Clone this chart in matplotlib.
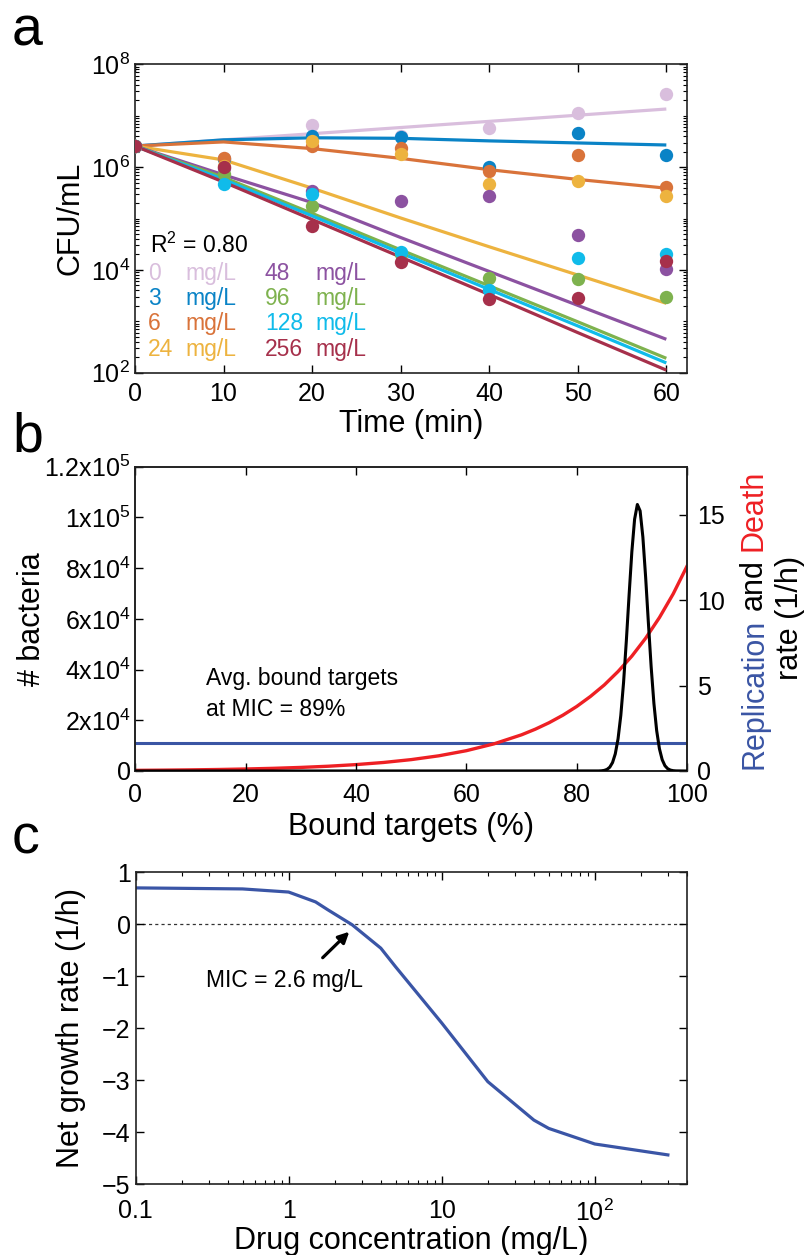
import matplotlib
matplotlib.use('Agg')
import matplotlib.pyplot as plt
from matplotlib import ticker
from matplotlib.transforms import IdentityTransform

plt.rcParams['font.family'] = ['Liberation Sans', 'DejaVu Sans']
plt.rcParams['mathtext.fontset'] = 'custom'
plt.rcParams['mathtext.rm'] = 'Liberation Sans'
plt.rcParams['mathtext.it'] = 'Liberation Sans:italic'
plt.rcParams['mathtext.bf'] = 'Liberation Sans:bold'

# ---------------- Panel a data (log10 CFU/mL) ----------------
time_min = [0, 10, 20, 30, 40, 50, 60]
conc_labels = ['0', '3', '6', '24', '48', '96', '128', '256']
series_colors = ['#D9BEDD', '#0A83C6', '#D9733A', '#EDB33F',
                 '#8C52A1', '#7EB24E', '#10BBEA', '#A6304B']

obs_0 = [6.41, 6.17, 6.81, 6.60, 6.77, 7.06, 7.42]
obs_3 = [6.41, 6.16, 6.61, 6.59, 6.01, 6.67, 6.23]
obs_6 = [6.41, 6.17, 6.42, 6.37, 5.93, 6.24, 5.62]
obs_24 = [6.41, 6.02, 6.51, 6.25, 5.67, 5.73, 5.44]
obs_48 = [6.41, 5.98, 5.53, 5.35, 5.44, 4.67, 4.01]
obs_96 = [6.41, 5.86, 5.24, 4.30, 3.84, 3.82, 3.48]
obs_128 = [6.41, 5.67, 5.47, 4.34, 3.61, 4.23, 4.30]
obs_256 = [6.41, 6.01, 4.85, 4.16, 3.43, 3.46, 4.18]

fit_0 = [6.41, 6.53, 6.65, 6.77, 6.89, 7.01, 7.13]
fit_3 = [6.41, 6.53, 6.57, 6.56, 6.51, 6.47, 6.43]
fit_6 = [6.41, 6.49, 6.36, 6.17, 5.95, 5.76, 5.59]
fit_24 = [6.41, 6.14, 5.59, 5.01, 4.45, 3.90, 3.35]
fit_48 = [6.41, 5.85, 5.31, 4.63, 3.97, 3.31, 2.65]
fit_96 = [6.41, 5.80, 5.10, 4.39, 3.69, 2.99, 2.28]
fit_128 = [6.41, 5.76, 5.05, 4.33, 3.62, 2.91, 2.19]
fit_256 = [6.41, 5.71, 4.98, 4.25, 3.52, 2.78, 2.05]

a_xticks = [0, 10, 20, 30, 40, 50, 60]
a_yticks = [1e2, 1e4, 1e6, 1e8]
a_yticklabels = ['10$^2$', '10$^4$', '10$^6$', '10$^8$']

# ---------------- Panel b data ----------------
bound_pct_rate = [0, 5, 10, 15, 20, 25, 30, 35, 40, 45, 50, 55, 60, 65, 70,
                  72.5, 75, 77.5, 80, 82.5, 85, 87.5, 90, 92.5, 95, 97.5, 100]
death_rate = [0.037, 0.050, 0.066, 0.088, 0.118, 0.157, 0.21, 0.28, 0.375,
              0.50, 0.667, 0.89, 1.19, 1.59, 2.12, 2.45, 2.83, 3.27, 3.78,
              4.37, 5.04, 5.83, 6.73, 7.78, 8.99, 10.38, 12.0]
bound_pct_repl = [0, 100]
replication_rate = [1.66, 1.66]

bound_pct_dist = [0, 84, 84.5, 85, 85.5, 86, 86.5, 87, 87.5, 88, 88.5, 89,
                  89.5, 90, 90.5, 91, 91.5, 92, 92.5, 93, 93.5, 94, 94.5, 95,
                  95.5, 96, 96.5, 97, 97.5, 98, 100]
n_bacteria = [0, 28, 86, 242, 629, 1506, 3327, 6771, 12690, 21930, 34930,
              51260, 69330, 86420, 99290, 105100, 102580, 92250, 76460, 58410,
              41120, 26670, 15950, 8790, 4465, 2085, 901, 358, 131, 44, 0]

b_xticks = [0, 20, 40, 60, 80, 100]
b_yticks = [0, 2e4, 4e4, 6e4, 8e4, 1e5, 1.2e5]
b_yticklabels = ['0', '2x10$^4$', '4x10$^4$', '6x10$^4$', '8x10$^4$',
                 '1x10$^5$', '1.2x10$^5$']
b_rticks = [0, 5, 10, 15]

# ---------------- Panel c data ----------------
drug_conc = [0.1, 0.5, 1, 1.5, 1.8, 2.6, 4, 5, 10, 20, 40, 50, 100, 300]
net_growth = [0.70, 0.68, 0.62, 0.43, 0.28, -0.01, -0.46, -0.82, -1.90,
              -3.03, -3.77, -3.93, -4.23, -4.44]
c_xticks = [0.1, 1, 10, 100]
c_xticklabels = ['0.1', '1', '10', '10$^2$']
c_yticks = [-5, -4, -3, -2, -1, 0, 1]

W, H = 807, 1255
fig = plt.figure(figsize=(W / 100, H / 100), dpi=100)

TICK_FS = 18
LAB_FS = 22
TXT_FS = 16.5


def style_ticks(ax, pad_x=6, pad_y=3.5):
    ax.tick_params(which='major', direction='in', length=5.5, width=1.0,
                   labelsize=TICK_FS)
    ax.tick_params(which='minor', direction='in', length=2.8, width=0.8)
    ax.tick_params(axis='x', pad=pad_x)
    ax.tick_params(axis='y', pad=pad_y)
    for s in ax.spines.values():
        s.set_linewidth(1.2)
        s.set_color('#222222')


def frac_rect(l, r, t, b):
    return [l / W, 1 - b / H, (r - l) / W, (b - t) / H]


# ================= Panel a =================
axa = fig.add_axes(frac_rect(135, 686.7, 64.3, 372.7))
obs_all = [obs_0, obs_3, obs_6, obs_24, obs_48, obs_96, obs_128, obs_256]
fit_all = [fit_0, fit_3, fit_6, fit_24, fit_48, fit_96, fit_128, fit_256]
for fit, col in zip(fit_all, series_colors):
    axa.plot(time_min, [10 ** v for v in fit], color=col, lw=2.3,
             solid_capstyle='butt', zorder=2)
for obs, col in zip(obs_all, series_colors):
    axa.plot(time_min, [10 ** v for v in obs], 'o', color=col, ms=9.6,
             mec='none', zorder=3)
axa.set_yscale('log')
axa.set_xlim(0, 62.3)
axa.set_ylim(1e2, 1e8)
axa.set_xticks(a_xticks)
axa.set_yticks(a_yticks)
axa.set_yticklabels(a_yticklabels)
axa.yaxis.set_minor_locator(ticker.LogLocator(base=10, subs=range(1, 10), numticks=20))
axa.yaxis.set_minor_formatter(ticker.NullFormatter())
axa.tick_params(which='both', top=True, right=True)
style_ticks(axa, pad_x=7, pad_y=3.5)
axa.set_xlabel('Time (min)', fontsize=LAB_FS)
axa.set_ylabel('CFU/mL', fontsize=LAB_FS)
axa.xaxis.set_label_coords(0.5, -0.118)
axa.yaxis.set_label_coords(-0.089, 0.5)

axa.text(0.027, 0.387, 'R$^2$ = 0.80', transform=axa.transAxes,
         fontsize=TXT_FS, color='black')
row_y = [0.3006, 0.2195, 0.1384, 0.0541]
for i, (lab, col) in enumerate(zip(conc_labels, series_colors)):
    c = i // 4
    r = i % 4
    xn = 0.0236 if c == 0 else 0.2356
    xu = 0.0906 if c == 0 else 0.3263
    axa.text(xn, row_y[r], lab, transform=axa.transAxes, fontsize=TXT_FS,
             color=col)
    axa.text(xu, row_y[r], 'mg/L', transform=axa.transAxes, fontsize=TXT_FS,
             color=col)

# ================= Panel b =================
axb = fig.add_axes(frac_rect(135.4, 687, 466.7, 771))
axb.plot(bound_pct_dist, n_bacteria, color='black', lw=2.2, zorder=3)
axb.set_xlim(0, 100)
axb.set_ylim(0, 1.2e5)
axb.set_xticks(b_xticks)
axb.set_yticks(b_yticks)
axb.set_yticklabels(b_yticklabels)
axb.tick_params(which='both', top=True, right=False)
style_ticks(axb, pad_x=9, pad_y=3.5)
axb.set_xlabel('Bound targets (%)', fontsize=LAB_FS)
axb.set_ylabel('# bacteria', fontsize=LAB_FS)
axb.xaxis.set_label_coords(0.5, -0.134)
axb.yaxis.set_label_coords(-0.160, 0.5)
axb.text(0.128, 0.2826, 'Avg. bound targets', transform=axb.transAxes,
         fontsize=TXT_FS)
axb.text(0.128, 0.1807, 'at MIC = 89%', transform=axb.transAxes,
         fontsize=TXT_FS)

axb2 = axb.twinx()
axb2.plot(bound_pct_repl, replication_rate, color='#3A55A4', lw=2.2, zorder=2)
axb2.plot(bound_pct_rate, death_rate, color='#EE2024', lw=2.4, zorder=2)
axb2.set_ylim(0, 17.83)
axb2.set_yticks(b_rticks)
style_ticks(axb2, pad_x=9, pad_y=7)
axb2.tick_params(which='both', direction='in')
axb.set_zorder(axb2.get_zorder() + 1)
axb.patch.set_visible(False)

# ================= Panel c =================
axc = fig.add_axes(frac_rect(135.5, 687, 872.3, 1184))
axc.axhline(0, color='#333333', lw=0.9, ls=(0, (2.5, 2.5)), zorder=1)
axc.plot(drug_conc, net_growth, color='#3A55A6', lw=2.3, zorder=2)
axc.set_xscale('log')
axc.set_xlim(0.1, 400)
axc.set_ylim(-5, 1)
axc.set_xticks(c_xticks)
axc.set_xticklabels(c_xticklabels)
axc.xaxis.set_minor_locator(ticker.LogLocator(base=10, subs=range(2, 10), numticks=20))
axc.xaxis.set_minor_formatter(ticker.NullFormatter())
axc.set_yticks(c_yticks)
axc.tick_params(which='both', top=True, right=True)
style_ticks(axc, pad_x=11, pad_y=3.5)
axc.set_xlabel('Drug concentration (mg/L)', fontsize=LAB_FS)
axc.set_ylabel('Net growth rate (1/h)', fontsize=LAB_FS)
axc.xaxis.set_label_coords(0.5, -0.134)
axc.yaxis.set_label_coords(-0.089, 0.5)
axc.text(0.128, 0.633, 'MIC = 2.6 mg/L', transform=axc.transAxes,
         fontsize=TXT_FS)
axc.annotate('', xy=(0.3877, 0.8094), xytext=(0.3394, 0.726),
             xycoords='axes fraction', textcoords='axes fraction',
             arrowprops=dict(arrowstyle='-|>', lw=2.3, color='black',
                             mutation_scale=16, shrinkA=0, shrinkB=0))

# ================= panel letters =================
fig.text(12 / W, 1 - 45 / H, 'a', fontsize=40, va='baseline')
fig.text(12 / W, 1 - 452 / H, 'b', fontsize=40, va='baseline')
fig.text(12 / W, 1 - 853 / H, 'c', fontsize=40, va='baseline')

# ================= right label of panel b (multi-coloured) =================
fig.canvas.draw()
renderer = fig.canvas.get_renderer()
pieces = [('Replication', '#3A55A4'), ('and', 'black'), ('Death', '#EE2024')]
gap = 0.278 * LAB_FS * 100 / 72
lengths = []
for s, c in pieces:
    t = fig.text(0, 0, s, fontsize=LAB_FS, transform=IdentityTransform(),
                 rotation=90, rotation_mode='anchor', ha='left', va='baseline')
    bb = t.get_window_extent(renderer=renderer)
    lengths.append(bb.height)
    t.remove()
total = sum(lengths) + gap * (len(pieces) - 1)
y_center = H - 619
x_base = 762
y = y_center - total / 2
for (s, c), L in zip(pieces, lengths):
    fig.text(x_base, y, s, fontsize=LAB_FS, color=c,
             transform=IdentityTransform(), rotation=90,
             rotation_mode='anchor', ha='left', va='baseline')
    y += L + gap
fig.text(798, H - 618, 'rate (1/h)', fontsize=LAB_FS, color='black',
         transform=IdentityTransform(), rotation=90, rotation_mode='anchor',
         ha='center', va='baseline')

fig.savefig('out.png', dpi=100)
